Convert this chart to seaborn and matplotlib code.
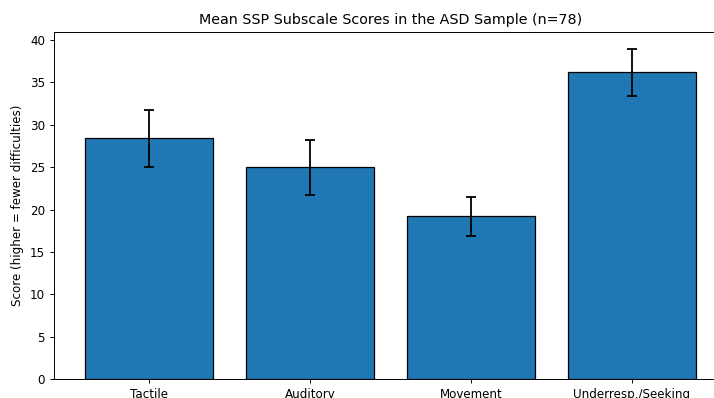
import matplotlib
matplotlib.use("Agg")
import matplotlib.pyplot as plt
import seaborn as sns
import pandas as pd

subscales = ["Tactile", "Auditory", "Movement", "Underresp./Seeking"]
mean_scores = [28.4, 25.0, 19.2, 36.2]
score_errors = [3.37, 3.25, 2.3, 2.8]

df = pd.DataFrame({"subscale": subscales, "score": mean_scores, "err": score_errors})

plt.rcParams.update({
    "font.size": 8.6,
    "axes.linewidth": 0.7,
    "xtick.major.size": 3.0,
    "ytick.major.size": 3.0,
    "xtick.major.width": 0.7,
    "ytick.major.width": 0.7,
})

fig = plt.figure(figsize=(7.14, 3.98), dpi=100)
ax = fig.add_axes([54 / 714, 19 / 398, 673 / 714, 347 / 398])

sns.barplot(data=df, x="subscale", y="score", color="#1f77b4", saturation=1,
            edgecolor="black", linewidth=0.9, width=0.8, errorbar=None, ax=ax)
ax.errorbar(range(len(df)), df["score"], yerr=df["err"], fmt="none",
            ecolor="black", elinewidth=1.3, capsize=3.4, capthick=1.3)

ax.set_xlim(-0.59, len(df) - 1 + 0.59)
ax.set_ylim(0, 40.95)
ax.set_xlabel("")
ax.set_ylabel("Score (higher = fewer difficulties)", fontsize=8.6)
ax.set_title("Mean SSP Subscale Scores in the ASD Sample (n=78)", fontsize=10.3)

fig.savefig("out.png", dpi=100)
